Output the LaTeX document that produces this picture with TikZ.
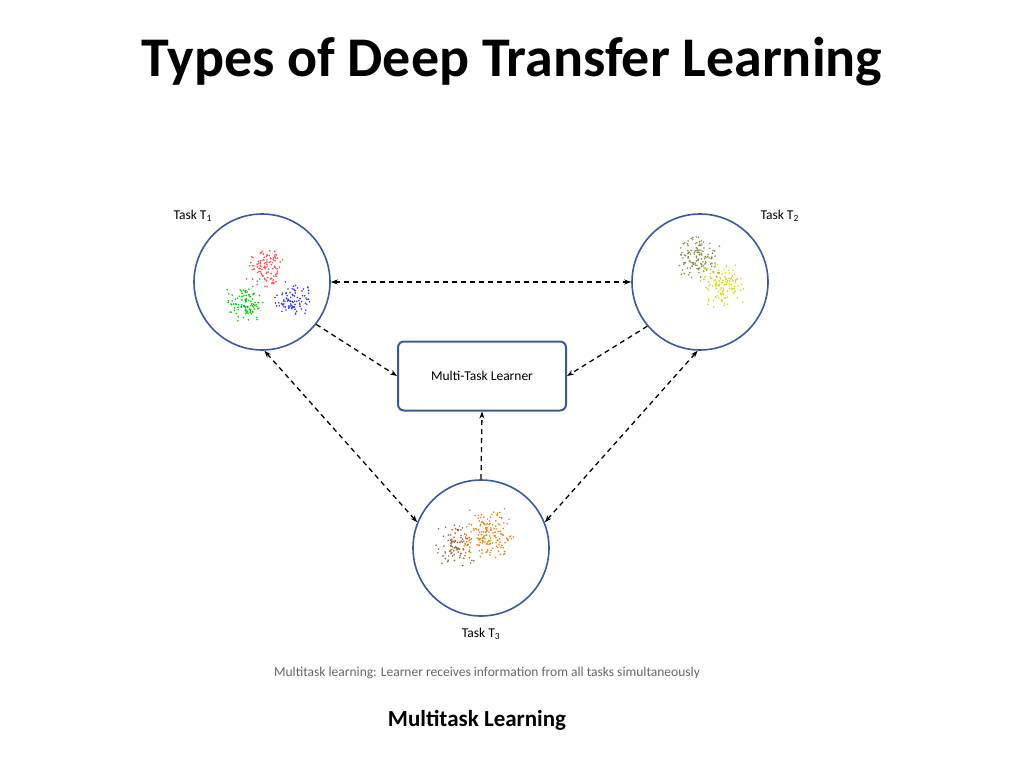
\documentclass[tikz,border=0pt]{standalone}
\usepackage{fontspec}
\setmainfont{Carlito}
\usetikzlibrary{arrows.meta}
\definecolor{circ}{HTML}{3A5A9A}
\newcommand{\mycluster}[5]{%
  \foreach \i in {1,...,#5}{\fill[#4] ({#1+#3*0.6*(rand+rand)},{#2+#3*0.6*(rand+rand)}) circle (0.9pt);}}
\begin{document}
\begin{tikzpicture}[x=1pt,y=-1pt,
  task/.style={circle,draw=circ,line width=1.6pt,minimum size=136pt,inner sep=0},
  link/.style={line width=1.3pt,dash pattern=on 5pt off 4pt,-{Stealth[length=7pt,width=5pt]}},
  blink/.style={link,{Stealth[length=7pt,width=5pt]}-{Stealth[length=7pt,width=5pt]}},
  lab/.style={font=\fontsize{13.5}{16}\selectfont}]
\useasboundingbox (0,0) rectangle (1024,768);
\pgfmathsetseed{7}
\node[font=\bfseries\fontsize{56}{62}\selectfont] (title) at (512,62) {Types of Deep Transfer Learning};
\node[task] (t1) at (262,282) {};
\node[task] (t2) at (700,282) {};
\node[task] (t3) at (481,548) {};
\node[draw=circ,line width=2pt,rounded corners=6pt,minimum width=168pt,minimum height=69pt,lab] (mtl) at (482,376) {Multi-Task Learner};
\mycluster{265}{268}{18}{red!70}{110}
\mycluster{245}{305}{17}{green!80!black}{100}
\mycluster{292}{300}{16}{blue!80}{90}
\mycluster{700}{258}{20}{yellow!50!black}{130}
\mycluster{722}{285}{20}{yellow!85!black}{130}
\mycluster{455}{545}{18}{brown!80!black}{90}
\mycluster{487}{535}{24}{orange!70!brown}{170}
\node[lab,anchor=west] (l1) at (170,216) {Task T\textsubscript{1}};
\node[lab,anchor=west] (l2) at (757,216) {Task T\textsubscript{2}};
\node[lab] (l3) at (481,634) {Task T\textsubscript{3}};
\node[font=\fontsize{13.5}{16}\selectfont,text=black!60] (cap) at (487,673) {Multitask learning: Learner receives information from all tasks simultaneously};
\node[font=\bfseries\fontsize{23}{27}\selectfont] (sub) at (477,720) {Multitask Learning};
\draw[blink] (t1.east) -- (t2.west);
\draw[link] (t1.-38) -- (mtl.west);
\draw[link] (t2.-140) -- (mtl.east);
\draw[link] (t3.north) -- (mtl.south);
\draw[blink] (t1.-88) -- (t3.158);
\draw[blink] (t2.-92) -- (t3.22);
\end{tikzpicture}
\end{document}
